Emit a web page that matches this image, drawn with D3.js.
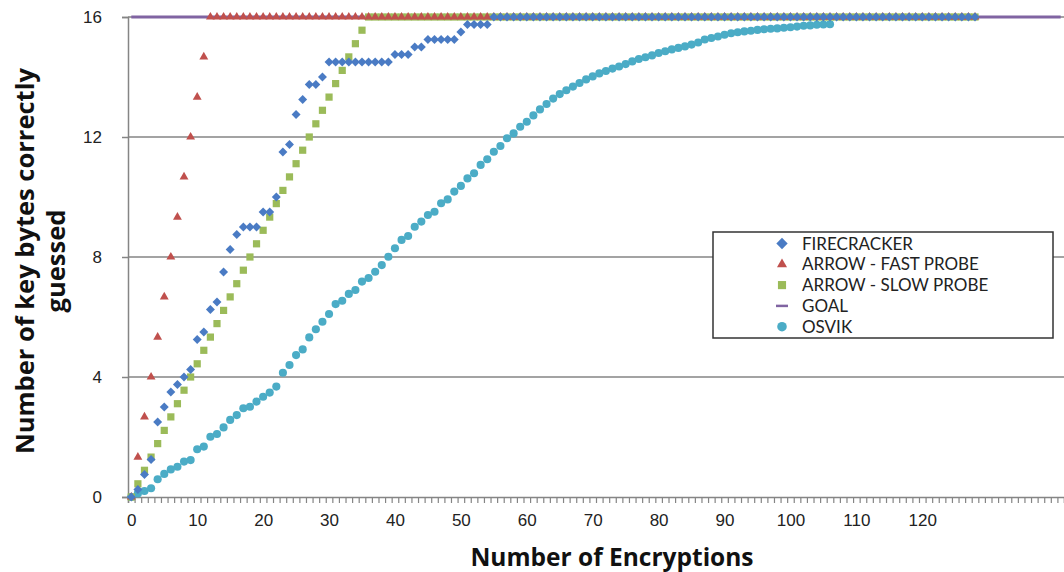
<!DOCTYPE html>
<html>
<head>
<meta charset="utf-8">
<script src="https://cdn.jsdelivr.net/npm/d3@7"></script>
<style>
  body { margin: 0; background: #fff; }
  svg { display: block; font-family: Lato, "Open Sans", sans-serif; }
</style>
</head>
<body>
<div id="chart"></div>
<script>
// valeurs (index = nombre de chiffrements)
const nCategories = 142;
const xLabels = [0, 10, 20, 30, 40, 50, 60, 70, 80, 90, 100, 110, 120];
const yTicks = [0, 4, 8, 12, 16];

const firecracker = [
  0, 0.25, 0.75, 1.25, 2.5, 3, 3.5, 3.75, 4, 4.25,
  5.25, 5.5, 6.25, 6.5, 7.5, 8.25, 8.75, 9, 9, 9,
  9.5, 9.5, 10, 11.5, 11.75, 12.75, 13.25, 13.75, 13.75, 14,
  14.5, 14.5, 14.5, 14.5, 14.5, 14.5, 14.5, 14.5, 14.5, 14.5,
  14.75, 14.75, 14.75, 15, 15, 15.25, 15.25, 15.25, 15.25, 15.25,
  15.5, 15.75, 15.75, 15.75, 15.75, 16, 16, 16, 16, 16,
  16, 16, 16, 16, 16, 16, 16, 16, 16, 16, 16, 16, 16, 16, 16, 16, 16, 16, 16, 16,
  16, 16, 16, 16, 16, 16, 16, 16, 16, 16, 16, 16, 16, 16, 16, 16, 16, 16, 16, 16,
  16, 16, 16, 16, 16, 16, 16, 16, 16, 16, 16, 16, 16, 16, 16, 16, 16, 16, 16, 16,
  16, 16, 16, 16, 16, 16, 16, 16, 16
];

const fastProbe = [
  0, 1.33, 2.67, 4, 5.33, 6.67, 8, 9.33, 10.67, 12, 13.33, 14.67,
  16, 16, 16, 16, 16, 16, 16, 16, 16, 16, 16, 16, 16, 16, 16, 16, 16, 16, 16, 16,
  16, 16, 16, 16, 16, 16, 16, 16, 16, 16, 16, 16, 16, 16, 16, 16, 16, 16, 16, 16,
  16, 16, 16, 16, 16, 16, 16, 16, 16, 16, 16, 16, 16, 16, 16, 16, 16, 16, 16, 16,
  16, 16, 16, 16, 16, 16, 16, 16, 16, 16, 16, 16, 16, 16, 16, 16, 16, 16, 16, 16,
  16, 16, 16, 16, 16, 16, 16, 16, 16, 16, 16, 16, 16, 16, 16, 16, 16, 16, 16, 16,
  16, 16, 16, 16, 16, 16, 16, 16, 16, 16, 16, 16, 16, 16, 16, 16, 16
];

const slowProbe = [
  0, 0.44, 0.89, 1.33, 1.78, 2.22, 2.67, 3.11, 3.56, 4,
  4.44, 4.89, 5.33, 5.78, 6.22, 6.67, 7.11, 7.56, 8, 8.44,
  8.89, 9.33, 9.78, 10.22, 10.67, 11.11, 11.56, 12, 12.44, 12.89,
  13.33, 13.78, 14.22, 14.67, 15.11, 15.56,
  16, 16, 16, 16, 16, 16, 16, 16, 16, 16, 16, 16, 16, 16, 16, 16, 16, 16, 16, 16,
  16, 16, 16, 16, 16, 16, 16, 16, 16, 16, 16, 16, 16, 16, 16, 16, 16, 16, 16, 16,
  16, 16, 16, 16, 16, 16, 16, 16, 16, 16, 16, 16, 16, 16, 16, 16, 16, 16, 16, 16,
  16, 16, 16, 16, 16, 16, 16, 16, 16, 16, 16, 16, 16, 16, 16, 16, 16, 16, 16, 16,
  16, 16, 16, 16, 16, 16, 16, 16, 16, 16, 16, 16, 16
];

const goal = [
  16, 16, 16, 16, 16, 16, 16, 16, 16, 16, 16, 16, 16, 16, 16, 16, 16, 16, 16, 16,
  16, 16, 16, 16, 16, 16, 16, 16, 16, 16, 16, 16, 16, 16, 16, 16, 16, 16, 16, 16,
  16, 16, 16, 16, 16, 16, 16, 16, 16, 16, 16, 16, 16, 16, 16, 16, 16, 16, 16, 16,
  16, 16, 16, 16, 16, 16, 16, 16, 16, 16, 16, 16, 16, 16, 16, 16, 16, 16, 16, 16,
  16, 16, 16, 16, 16, 16, 16, 16, 16, 16, 16, 16, 16, 16, 16, 16, 16, 16, 16, 16,
  16, 16, 16, 16, 16, 16, 16, 16, 16, 16, 16, 16, 16, 16, 16, 16, 16, 16, 16, 16,
  16, 16, 16, 16, 16, 16, 16, 16, 16, 16, 16, 16, 16, 16, 16, 16, 16, 16, 16, 16,
  16, 16
];

const osvik = [
  0, 0.12, 0.2, 0.29, 0.59, 0.77, 0.92, 1.01, 1.18, 1.23,
  1.59, 1.68, 2.01, 2.1, 2.32, 2.57, 2.73, 2.96, 3.01, 3.18,
  3.34, 3.48, 3.68, 4.14, 4.4, 4.73, 4.92, 5.32, 5.59, 5.84,
  6.1, 6.43, 6.54, 6.77, 6.9, 7.18, 7.3, 7.51, 7.73, 8.01,
  8.29, 8.57, 8.7, 9.01, 9.18, 9.4, 9.51, 9.79, 9.92, 10.18,
  10.37, 10.62, 10.79, 11.07, 11.26, 11.51, 11.7, 11.96, 12.12, 12.34,
  12.51, 12.72, 12.92, 13.1, 13.28, 13.43, 13.56, 13.68, 13.8, 13.92,
  14.02, 14.12, 14.2, 14.28, 14.35, 14.43, 14.52, 14.6, 14.66, 14.72,
  14.8, 14.86, 14.92, 14.97, 15.02, 15.08, 15.15, 15.25, 15.3, 15.35,
  15.41, 15.46, 15.49, 15.52, 15.54, 15.57, 15.59, 15.61, 15.62, 15.64,
  15.66, 15.68, 15.71, 15.72, 15.74, 15.75, 15.76
];

const seriesNames = ["FIRECRACKER", "ARROW - FAST PROBE", "ARROW - SLOW PROBE", "GOAL", "OSVIK"];
const colors = {
  "FIRECRACKER": "#4a7bc4",
  "ARROW - FAST PROBE": "#c0504d",
  "ARROW - SLOW PROBE": "#9bbb59",
  "GOAL": "#8064a2",
  "OSVIK": "#4bacc6"
};

const width = 1064, height = 572;
const plotLeft = 128, plotRight = 1064, plotTop = 17, plotBottom = 497;
const gridColor = "#858585";

const x = d3.scaleLinear().domain([-0.5, nCategories - 0.5]).range([plotLeft, plotRight]);
const y = d3.scaleLinear().domain([0, 16]).range([plotBottom, plotTop]);

const svg = d3.select("#chart").append("svg")
  .attr("width", width)
  .attr("height", height);

// grille horizontale
svg.append("g")
  .selectAll("line")
  .data(yTicks.filter(d => d > 0))
  .enter().append("line")
  .attr("x1", plotLeft).attr("x2", plotRight)
  .attr("y1", d => y(d)).attr("y2", d => y(d))
  .attr("stroke", gridColor)
  .attr("stroke-width", 1.5);

// axe Y
const yAxis = svg.append("g")
  .attr("transform", "translate(" + plotLeft + ",0)")
  .call(d3.axisLeft(y).tickValues(yTicks).tickSize(6).tickPadding(20).tickFormat(d3.format("d")));
yAxis.select(".domain").attr("stroke", gridColor).attr("stroke-width", 1.5);
yAxis.selectAll(".tick line").attr("stroke", gridColor).attr("stroke-width", 1.5);
yAxis.selectAll("text").attr("font-size", 17).attr("fill", "#222");

// axe X (catégories : graduations entre chaque catégorie)
const xAxis = svg.append("g")
  .attr("transform", "translate(0," + plotBottom + ")")
  .call(d3.axisBottom(x)
    .tickValues(d3.range(nCategories + 1).map(i => i - 0.5))
    .tickSize(6).tickFormat(""));
xAxis.select(".domain").attr("stroke", gridColor).attr("stroke-width", 1.5);
xAxis.selectAll(".tick line").attr("stroke", gridColor).attr("stroke-width", 1.2);

const xLab = svg.append("g")
  .attr("transform", "translate(0," + plotBottom + ")")
  .call(d3.axisBottom(x).tickValues(xLabels).tickSize(0).tickPadding(17).tickFormat(d3.format("d")));
xLab.select(".domain").remove();
xLab.selectAll("text").attr("font-size", 17).attr("fill", "#222");

// titres des axes
svg.append("text")
  .attr("x", 612).attr("y", 566)
  .attr("text-anchor", "middle")
  .attr("font-family", "'Open Sans', sans-serif")
  .attr("font-size", 24.5).attr("font-weight", "bold")
  .attr("fill", "#111")
  .text("Number of Encryptions");

const yTitle = svg.append("text")
  .attr("transform", "translate(25,261)rotate(-90)")
  .attr("text-anchor", "middle")
  .attr("font-family", "'Open Sans', sans-serif")
  .attr("font-size", 25.5).attr("font-weight", "bold")
  .attr("fill", "#111");
yTitle.append("tspan").attr("x", 0).attr("dy", "0.35em").text("Number of key bytes correctly");
yTitle.append("tspan").attr("x", 0).attr("dy", "1.2em").text("guessed");

// séries
const symbols = {
  "FIRECRACKER": d3.symbol().type(d3.symbolSquare).size(40),
  "ARROW - FAST PROBE": d3.symbol().type(d3.symbolTriangle).size(34),
  "ARROW - SLOW PROBE": d3.symbol().type(d3.symbolSquare).size(52),
  "OSVIK": d3.symbol().type(d3.symbolCircle).size(52)
};
const rot = name => name === "FIRECRACKER" ? "rotate(45)" : "";

const line = d3.line().x((d, i) => x(i)).y(d => y(d));
svg.append("path")
  .datum(goal)
  .attr("d", line)
  .attr("fill", "none")
  .attr("stroke", colors["GOAL"])
  .attr("stroke-width", 3);

function drawPoints(name, values) {
  svg.append("g")
    .selectAll("path")
    .data(values)
    .enter().append("path")
    .attr("d", symbols[name])
    .attr("transform", (d, i) => "translate(" + x(i) + "," + y(d) + ")" + rot(name))
    .attr("fill", colors[name]);
}

drawPoints("OSVIK", osvik);
drawPoints("ARROW - SLOW PROBE", slowProbe);
drawPoints("ARROW - FAST PROBE", fastProbe);
drawPoints("FIRECRACKER", firecracker);

// légende
const legend = svg.append("g").attr("transform", "translate(713,232)");
legend.append("rect")
  .attr("width", 340).attr("height", 106)
  .attr("fill", "#fff")
  .attr("stroke", "#333")
  .attr("stroke-width", 1.5);

const legendSymbols = {
  "FIRECRACKER": d3.symbol().type(d3.symbolSquare).size(64),
  "ARROW - FAST PROBE": d3.symbol().type(d3.symbolTriangle).size(44),
  "ARROW - SLOW PROBE": d3.symbol().type(d3.symbolSquare).size(66),
  "OSVIK": d3.symbol().type(d3.symbolCircle).size(72)
};

seriesNames.forEach((name, i) => {
  const row = legend.append("g").attr("transform", "translate(69," + (11.5 + i * 20.8) + ")");
  if (name === "GOAL") {
    row.append("line")
      .attr("x1", -6).attr("x2", 6)
      .attr("stroke", colors[name]).attr("stroke-width", 2.5);
  } else {
    row.append("path")
      .attr("d", legendSymbols[name])
      .attr("transform", rot(name))
      .attr("fill", colors[name]);
  }
  row.append("text")
    .attr("x", 20).attr("dy", "0.36em")
    .attr("font-size", 17)
    .attr("fill", "#222")
    .text(name);
});
</script>
</body>
</html>
